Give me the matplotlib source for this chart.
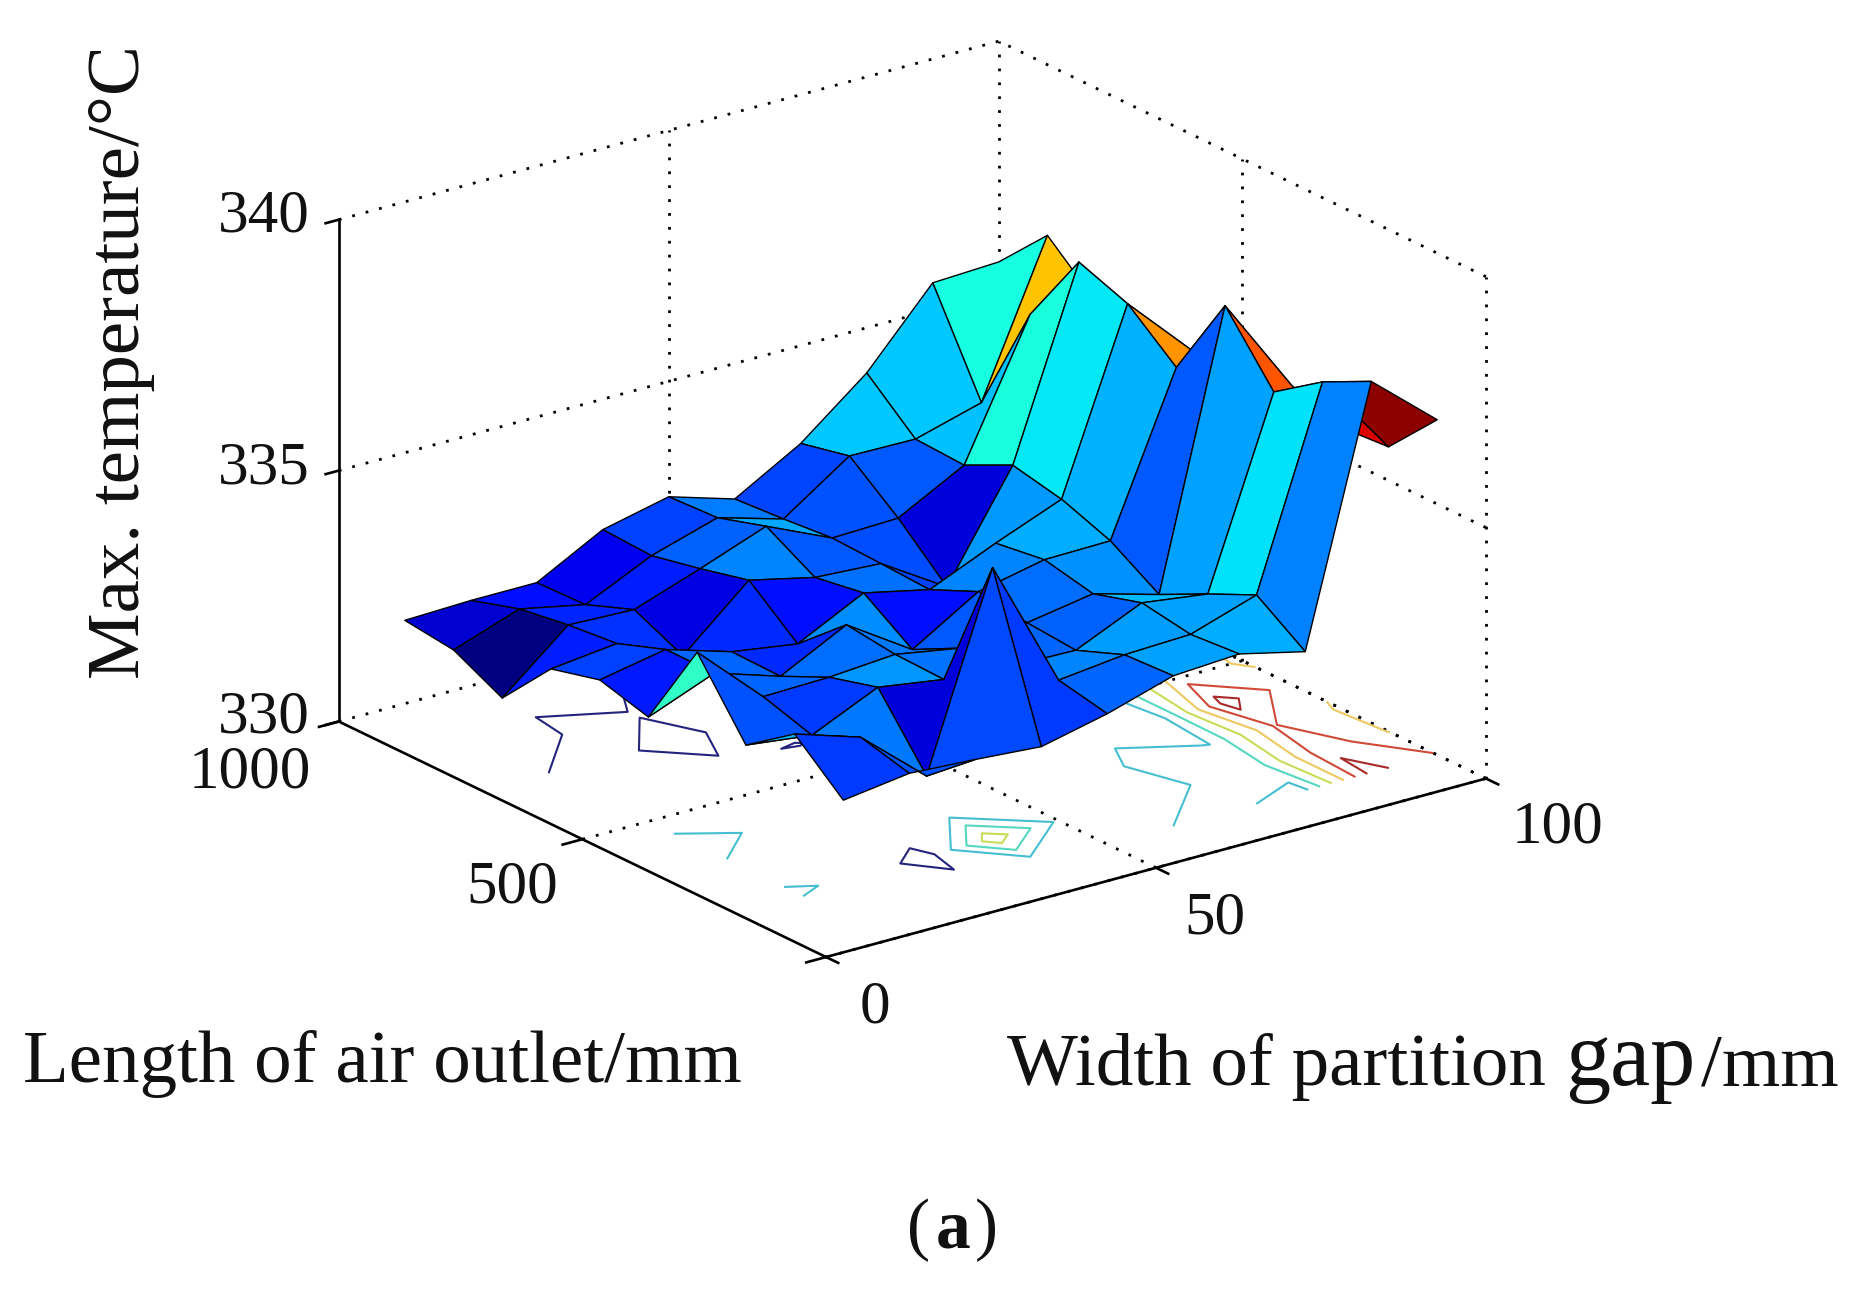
import numpy as np
import matplotlib
matplotlib.use('Agg')
import matplotlib.pyplot as plt
from matplotlib.colors import Normalize
from mpl_toolkits.mplot3d import proj3d

# ---- data ----
partition_gap_mm = [10, 20, 30, 40, 50, 60, 70, 80, 90, 100]
outlet_length_mm = [100, 200, 300, 400, 500, 600, 700, 800, 900, 1000]
t_100 = [332.30, 332.48, 332.40, 332.30, 332.60, 333.00, 333.08, 332.77, 337.80, 336.68]
t_200 = [333.15, 332.73, 331.60, 335.40, 332.80, 332.95, 333.00, 333.43, 337.32, 335.67]
t_300 = [332.46, 332.30, 332.90, 332.70, 332.60, 332.57, 333.16, 332.98, 336.65, 335.60]
t_400 = [333.84, 332.60, 332.63, 332.73, 332.50, 332.65, 332.87, 332.50, 337.90, 335.97]
t_500 = [332.08, 332.60, 332.18, 332.85, 332.00, 332.80, 333.08, 333.10, 336.20, 335.60]
t_600 = [332.35, 332.60, 332.20, 332.00, 332.66, 332.37, 332.94, 333.46, 337.00, 335.69]
t_700 = [332.10, 332.25, 331.65, 332.80, 332.50, 332.42, 331.60, 333.67, 337.36, 335.70]
t_800 = [331.05, 332.15, 332.10, 332.56, 333.05, 332.46, 332.50, 333.20, 335.85, 335.74]
t_900 = [331.54, 332.00, 331.73, 332.35, 332.75, 332.37, 333.27, 333.25, 333.62, 336.60]
t_1000 = [331.66, 331.70, 331.70, 332.40, 332.70, 332.30, 333.05, 334.10, 335.54, 335.60]
contour_levels = [332.05, 333.0, 333.9, 334.8, 335.7, 336.6, 337.5]
contour_colors = ['#24247e', '#45bfcf', '#55d8c0', '#c9dc55', '#eec860', '#d04a38', '#a82a2a']
x_ticks = [0, 50, 100]
y_ticks = [0, 500, 1000]
z_ticks = [330, 335, 340]

W, H = 1864, 1292
SERIF = 'Liberation Serif'
fig = plt.figure(figsize=(W / 100, H / 100), dpi=100, facecolor='white')
ax = fig.add_axes([0, 0, 1, 1], projection='3d', proj_type='ortho',
                  computed_zorder=False)
ax.view_init(elev=21.2, azim=-126.8)
ax.set_box_aspect((693, 684, 452.6))
ax.set_xlim(0, 100, view_margin=0)
ax.set_ylim(0, 1000, view_margin=0)
ax.set_zlim(330, 340, view_margin=0)
ax.set_axis_off()

X, Y = np.meshgrid(partition_gap_mm, outlet_length_mm)
Z = np.array([t_100, t_200, t_300, t_400, t_500, t_600, t_700, t_800, t_900, t_1000])
norm = Normalize(Z.min(), Z.max())

# back walls and floor: dotted
dot = dict(color='black', lw=2.0, ls=(0, (1, 4)), zorder=1)
for z in z_ticks:
    ax.plot([0, 100], [1000, 1000], [z, z], **dot)
    ax.plot([100, 100], [0, 1000], [z, z], **dot)
for x in x_ticks[1:]:
    ax.plot([x, x], [1000, 1000], [330, 340], **dot)
    ax.plot([x, x], [0, 1000], [330, 330], **dot)
for y in y_ticks[:2]:
    ax.plot([100, 100], [y, y], [330, 340], **dot)
    ax.plot([0, 100], [y, y], [330, 330], **dot)

# solid axes and ticks
sol = dict(color='black', lw=1.9, zorder=1.5)
ax.plot([0, 100], [0, 0], [330, 330], **sol)
ax.plot([0, 0], [0, 1000], [330, 330], **sol)
ax.plot([0, 0], [1000, 1000], [330, 340], **sol)
for x in x_ticks:
    ax.plot([x, x], [0, -25], [330, 330], **sol)
for y in y_ticks:
    ax.plot([0, -3], [y, y], [330, 330], **sol)
for z in z_ticks:
    ax.plot([0, -2], [1000, 1000], [z, z], **sol)

cs = ax.contour(X, Y, Z, levels=contour_levels, zdir='z', offset=330,
                colors=contour_colors, linewidths=1.5, zorder=2)

ax.plot_surface(X, Y, Z, rstride=1, cstride=1, facecolors=plt.cm.jet(norm(Z)),
                edgecolor='black', linewidth=1.0, shade=False, antialiased=True,
                zorder=3)

# place the box on the figure from the projected corners
T_LEFT = np.array([285 * W / 1568, H - 607 * H / 1087])
T_RIGHT = np.array([1250 * W / 1568, H - 655 * H / 1087])


def corner_px(x, y, z):
    px, py, _ = proj3d.proj_transform(x, y, z, ax.get_proj())
    return ax.transData.transform((px, py))


S = float(H)
C = np.array([W / 2, H / 2])


def place(side, centre):
    ax.set_position([(centre[0] - side / 2) / W, (centre[1] - side / 2) / H,
                     side / W, side / H])
    fig.canvas.draw()


place(S, C)
for _ in range(2):
    pl, pr = corner_px(0, 1000, 330), corner_px(100, 0, 330)
    ratio = np.linalg.norm(T_RIGHT - T_LEFT) / np.linalg.norm(pr - pl)
    S *= ratio
    C = C + ((T_LEFT + T_RIGHT) / 2 - (C + ((pl + pr) / 2 - C) * ratio))
    place(S, C)


def label(sx, sy, s, size, ha='center', va='center', **kw):
    kw.setdefault('family', SERIF)
    return fig.text(sx / 1568, 1 - sy / 1087, s, fontsize=size, ha=ha, va=va,
                    color='#111111', **kw)


TICK = 44
label(222, 182, '340', TICK)
label(222, 394, '335', TICK)
label(222, 604, '330', TICK)
label(210, 650, '1000', TICK)
label(431, 747, '500', TICK)
label(736, 848, '0', TICK)
label(1022, 773, '50', TICK)
label(1310, 696, '100', TICK)
label(102, 305, 'Max. temperature/°C', 54, rotation=90)
label(19, 910, 'Length of air outlet/mm', 54, ha='left', va='baseline')
label(847, 913, 'Width of partition', 54, ha='left', va='baseline')
label(1317, 913, 'gap', 65, ha='left', va='baseline')
label(1431, 913, '/mm', 54, ha='left', va='baseline')
label(773, 1035, '(', 50)
label(802, 1035, 'a', 50, fontweight='bold')
label(830, 1035, ')', 50)

fig.savefig('out.png', dpi=100, facecolor='white')
